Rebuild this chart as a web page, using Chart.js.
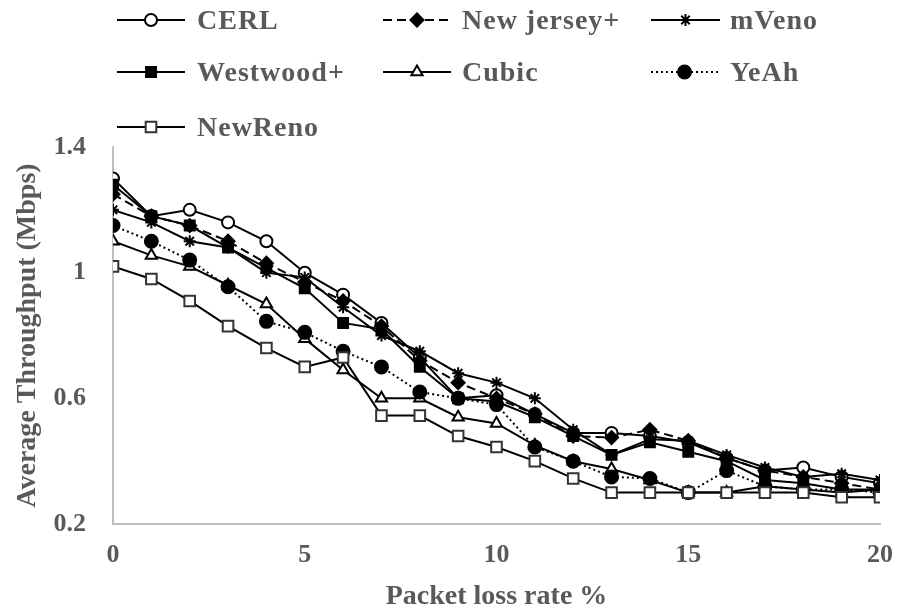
<!DOCTYPE html>
<html>
<head>
<meta charset="utf-8">
<script src="https://cdn.jsdelivr.net/npm/chart.js@4/dist/chart.umd.min.js"></script>
<style>
html,body{margin:0;padding:0;background:#ffffff;}
canvas{display:block;}
</style>
</head>
<body>
<canvas id="c" width="901" height="611"></canvas>
<script>
// ---- data ----
const lossRates = [0,1,2,3,4,5,6,7,8,9,10,11,12,13,14,15,16,17,18,19,20];
const seriesNames = ['CERL','New jersey+','mVeno','Westwood+','Cubic','YeAh','NewReno'];
const cerl      = [1.30,1.18,1.20,1.16,1.10,1.00,0.93,0.84,0.73,0.60,0.61,0.55,0.49,0.49,0.48,0.46,0.41,0.37,0.38,0.35,0.33];
const newJersey = [1.25,1.18,1.15,1.10,1.03,0.97,0.91,0.83,0.72,0.65,0.60,0.55,0.48,0.475,0.50,0.465,0.41,0.37,0.35,0.33,0.31];
const mVeno     = [1.20,1.16,1.10,1.08,1.00,0.985,0.89,0.80,0.75,0.68,0.65,0.60,0.50,0.42,0.47,0.465,0.42,0.38,0.35,0.36,0.34];
const westwood  = [1.28,1.18,1.15,1.08,1.015,0.95,0.84,0.82,0.70,0.60,0.59,0.54,0.48,0.42,0.46,0.43,0.40,0.34,0.33,0.31,0.31];
const cubic     = [1.10,1.055,1.02,0.96,0.90,0.79,0.69,0.60,0.60,0.54,0.52,0.45,0.40,0.375,0.34,0.30,0.30,0.32,0.31,0.30,0.31];
const yeah      = [1.15,1.10,1.04,0.955,0.845,0.81,0.75,0.70,0.62,0.60,0.58,0.445,0.40,0.35,0.345,0.30,0.37,0.32,0.31,0.31,0.30];
const newReno   = [1.02,0.98,0.91,0.83,0.76,0.70,0.73,0.545,0.545,0.48,0.445,0.40,0.345,0.30,0.30,0.30,0.30,0.30,0.30,0.285,0.285];
const xTicks = [0,5,10,15,20];
const yTicks = [0.2,0.6,1,1.4];
const yTickLabels = ['0.2','0.6','1','1.4'];
const xTitle = 'Packet loss rate %';
const yTitle = 'Average Throughput (Mbps)';

// ---- styles ----
const TEXT = '#595959';
const AXIS = '#bfbfbf';
const FONT = 'Liberation Serif';
const allValues = [cerl,newJersey,mVeno,westwood,cubic,yeah,newReno];
const styles = [
  {pointStyle:'circle',   radius:6, fill:'#ffffff', dash:[]},
  {pointStyle:'rectRot',  radius:6.5, fill:'#000000', dash:[9,5]},
  {pointStyle:'star',     radius:6, fill:'#000000', dash:[]},
  {pointStyle:'rect',     radius:7, fill:'#000000', dash:[]},
  {pointStyle:'triangle', radius:6.5, fill:'#ffffff', dash:[]},
  {pointStyle:'circle',   radius:6.5, fill:'#000000', dash:[2,3]},
  {pointStyle:'rect',     radius:7.5, fill:'#ffffff', dash:[]}
];
// legend layout: [lineStart, lineEnd, rowY, textX]
const legendPos = [
  [117,185,20,197],[383,451,20,462],[651,720,20,730],
  [117,185,72,197],[383,451,72,462],[651,718,72,730],
  [117,185,127,197]
];

const datasets = seriesNames.map((name,i)=>({
  label: name,
  data: lossRates.map((x,j)=>({x:x, y:allValues[i][j]})),
  borderColor:'#000000',
  borderWidth:2,
  borderDash: styles[i].dash,
  pointStyle: styles[i].pointStyle,
  pointRadius: styles[i].radius,
  pointHoverRadius: styles[i].radius,
  pointBackgroundColor: styles[i].fill,
  pointBorderColor: i===6 ? '#333333' : '#000000',
  pointBorderWidth:2,
  tension:0,
  fill:false,
  order:-i
}));

const legendPlugin = {
  id:'customLegend',
  afterDraw(chart){
    const ctx = chart.ctx;
    chart.data.datasets.forEach((ds,i)=>{
      const [x1,x2,y,tx] = legendPos[i];
      ctx.save();
      ctx.strokeStyle = ds.borderColor;
      ctx.lineWidth = ds.borderWidth;
      ctx.setLineDash(ds.borderDash);
      ctx.beginPath(); ctx.moveTo(x1,y); ctx.lineTo(x2,y); ctx.stroke();
      ctx.setLineDash([]);
      ctx.fillStyle = ds.pointBackgroundColor;
      ctx.strokeStyle = ds.pointBorderColor;
      ctx.lineWidth = ds.pointBorderWidth;
      Chart.helpers.drawPoint(ctx,{pointStyle:ds.pointStyle, radius:ds.pointRadius, rotation:0, borderWidth:ds.pointBorderWidth},(x1+x2)/2,y);
      ctx.fillStyle = TEXT;
      ctx.font = 'bold 28px "' + FONT + '"';
      ctx.letterSpacing = '1px';
      ctx.textBaseline = 'middle';
      ctx.textAlign = 'left';
      ctx.fillText(ds.label, tx, y+2);
      ctx.restore();
    });
  }
};

new Chart(document.getElementById('c'),{
  type:'line',
  data:{datasets:datasets},
  options:{
    responsive:false,
    animation:false,
    devicePixelRatio:1,
    layout:{padding:{top:147,right:0,left:0,bottom:0}},
    plugins:{legend:{display:false},tooltip:{enabled:false}},
    scales:{
      x:{
        type:'linear', min:0, max:20,
        afterBuildTicks:(s)=>{ s.ticks = xTicks.map(v=>({value:v})); },
        afterFit:(s)=>{ s.height = 87; s.paddingRight = 21; s.paddingLeft = 0; },
        grid:{display:false, drawTicks:false},
        border:{display:true, color:AXIS, width:2},
        ticks:{color:TEXT, padding:16, font:{family:FONT, size:26, weight:'bold'}},
        title:{display:true, text:xTitle, color:TEXT, padding:{top:0,bottom:0}, font:{family:FONT, size:28, weight:'bold', lineHeight:1}}
      },
      y:{
        type:'linear', min:0.2, max:1.4,
        afterBuildTicks:(s)=>{ s.ticks = yTicks.map(v=>({value:v})); },
        afterFit:(s)=>{ s.width = 113; },
        grid:{display:false, drawTicks:false},
        border:{display:true, color:AXIS, width:2},
        ticks:{color:TEXT, padding:27, font:{family:FONT, size:26, weight:'bold'},
          callback:(v,idx)=> yTickLabels[yTicks.indexOf(v)] ?? String(v)},
        title:{display:true, text:yTitle, color:TEXT, padding:{top:14,bottom:0}, font:{family:FONT, size:28, weight:'bold', lineHeight:1}}
      }
    }
  },
  plugins:[legendPlugin]
});
</script>
</body>
</html>
